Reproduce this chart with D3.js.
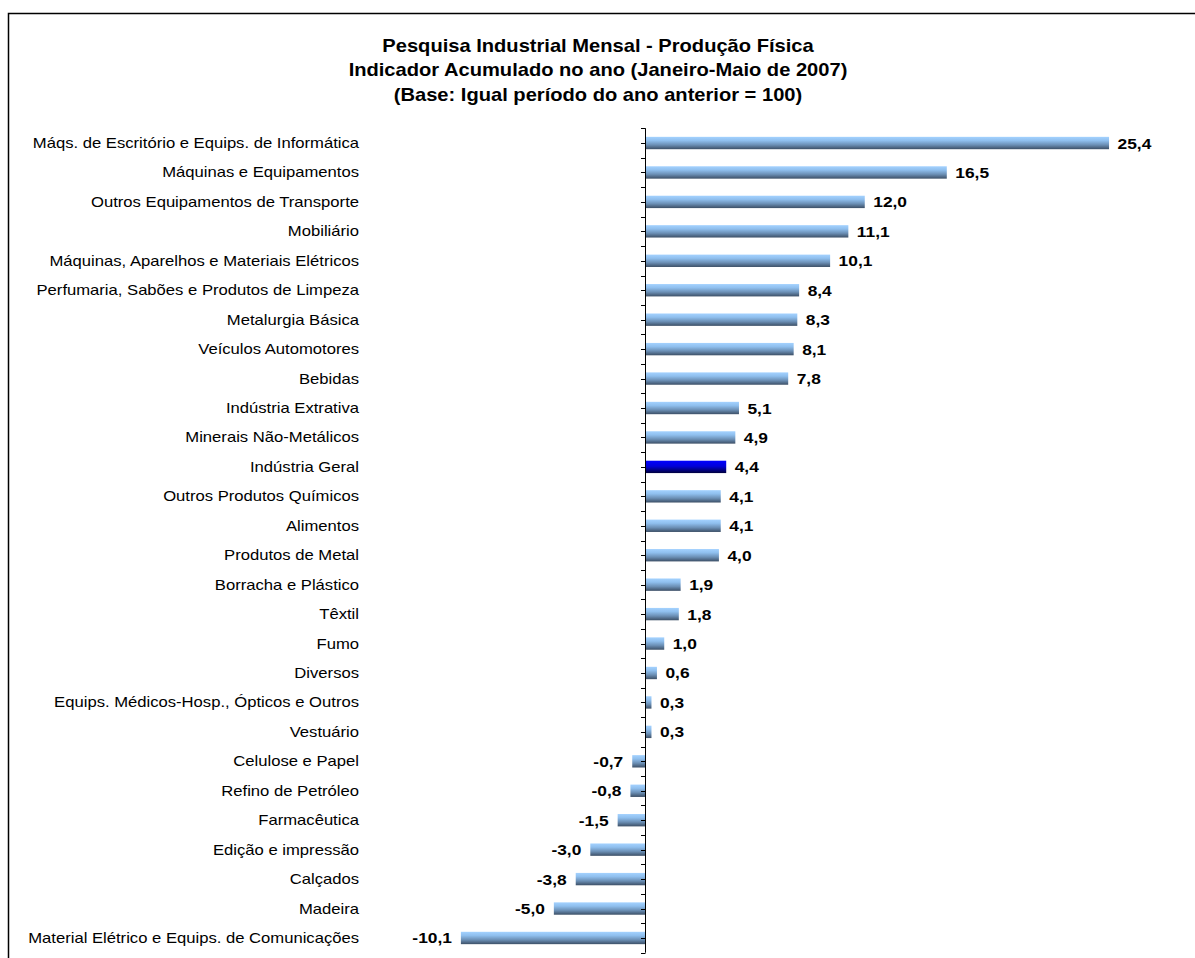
<!DOCTYPE html>
<html><head><meta charset="utf-8">
<script src="https://cdn.jsdelivr.net/npm/d3@7"></script>
<style>
html,body{margin:0;padding:0;background:#fff;}
svg{display:block;font-family:Arial,"Liberation Sans",sans-serif;}
</style></head>
<body><svg id="chart" width="1195" height="958"></svg>
<script>
const titleLines = [
  "Pesquisa Industrial Mensal - Produção Física",
  "Indicador Acumulado no ano (Janeiro-Maio de 2007)",
  "(Base: Igual período do ano anterior = 100)"
];
const categories = [
  "Máqs. de Escritório e Equips. de Informática",
  "Máquinas e Equipamentos",
  "Outros Equipamentos de Transporte",
  "Mobiliário",
  "Máquinas, Aparelhos e Materiais Elétricos",
  "Perfumaria, Sabões e Produtos de Limpeza",
  "Metalurgia Básica",
  "Veículos Automotores",
  "Bebidas",
  "Indústria Extrativa",
  "Minerais Não-Metálicos",
  "Indústria Geral",
  "Outros Produtos Químicos",
  "Alimentos",
  "Produtos de Metal ",
  "Borracha e Plástico",
  "Têxtil",
  "Fumo",
  "Diversos",
  "Equips. Médicos-Hosp., Ópticos e Outros",
  "Vestuário ",
  "Celulose e Papel ",
  "Refino de Petróleo",
  "Farmacêutica",
  "Edição e impressão",
  "Calçados ",
  "Madeira",
  "Material Elétrico e Equips. de Comunicações"
];
const values = [25.4,16.5,12.0,11.1,10.1,8.4,8.3,8.1,7.8,5.1,4.9,4.4,4.1,4.1,4.0,1.9,1.8,1.0,0.6,0.3,0.3,-0.7,-0.8,-1.5,-3.0,-3.8,-5.0,-10.1];
const highlight = "Indústria Geral";

const data = categories.map((c,i)=>({cat:c, v:values[i]}));
const svg = d3.select("#chart");

// frame
svg.append("rect").attr("x",8.5).attr("y",13.5).attr("width",1200).attr("height",1000)
  .attr("fill","none").attr("stroke","#000").attr("stroke-width",1.5);

const defs = svg.append("defs");
function grad(id, stops){
  const g = defs.append("linearGradient").attr("id",id).attr("x1",0).attr("y1",0).attr("x2",0).attr("y2",1);
  stops.forEach(s=>g.append("stop").attr("offset",s[0]).attr("stop-color",s[1]));
}
grad("gBar",[[0,"#a4d2ff"],[0.3,"#8fbfee"],[0.65,"#6b8fb5"],[1,"#3c4f66"]]);
grad("gHi",[[0,"#0000ff"],[0.45,"#0000d8"],[1,"#00003c"]]);

const x = d3.scaleLinear().domain([-12,28]).range([645-12*18.23, 645+28*18.23]);
const y = d3.scaleBand().domain(categories).range([128.3,952.7]).paddingInner(0.58).paddingOuter(0.29);

// title
svg.append("g").selectAll("text").data(titleLines).join("text")
  .attr("transform",(d,i)=>`translate(598,${51.5+i*24.5}) scale(1.15,1)`)
  .attr("text-anchor","middle").attr("font-weight","bold").attr("font-size",17.5)
  .attr("fill","#000").text(d=>d);

// bars
svg.append("g").selectAll("rect").data(data).join("rect")
  .attr("x",d=>x(Math.min(0,d.v)) + (d.v>=0?1:0))
  .attr("y",d=>y(d.cat))
  .attr("width",d=>Math.abs(x(d.v)-x(0)))
  .attr("height",y.bandwidth())
  .attr("fill",d=>d.cat===highlight?"url(#gHi)":"url(#gBar)");

// axis
const step = y.step();
const axisG = svg.append("g");
const y0 = 128.3, y1 = 952.7;
axisG.append("line").attr("x1",x(0)+0.5).attr("x2",x(0)+0.5).attr("y1",y0).attr("y2",y1)
  .attr("stroke","#000").attr("stroke-width",1);
const tickYs = d3.range(0, categories.length*2+1).map(k=>y0 + k*step/2);
axisG.selectAll("line.t").data(tickYs).join("line").attr("class","t")
  .attr("x1",x(0)-4).attr("x2",x(0)+0.5).attr("y1",d=>Math.round(d)+0.5).attr("y2",d=>Math.round(d)+0.5)
  .attr("stroke","#000").attr("stroke-width",1);

// category labels
const fmt = v => d3.format(".1f")(v).replace(".",",").replace("−","-");
svg.append("g").selectAll("text").data(data).join("text")
  .attr("transform",d=>`translate(359,${y(d.cat)+y.bandwidth()/2+5}) scale(1.147,1)`)
  .attr("text-anchor","end").attr("font-size",14.5).attr("fill","#000").text(d=>d.cat);

// value labels
svg.append("g").selectAll("text").data(data).join("text")
  .attr("transform",d=>`translate(${d.v>=0? x(d.v)+9.5 : x(d.v)-9},${y(d.cat)+y.bandwidth()/2+5.5}) scale(1.12,1)`)
  .attr("text-anchor",d=>d.v>=0?"start":"end")
  .attr("font-size",15.5).attr("font-weight","bold").attr("fill","#000")
  .text(d=>fmt(d.v));
</script></body></html>
